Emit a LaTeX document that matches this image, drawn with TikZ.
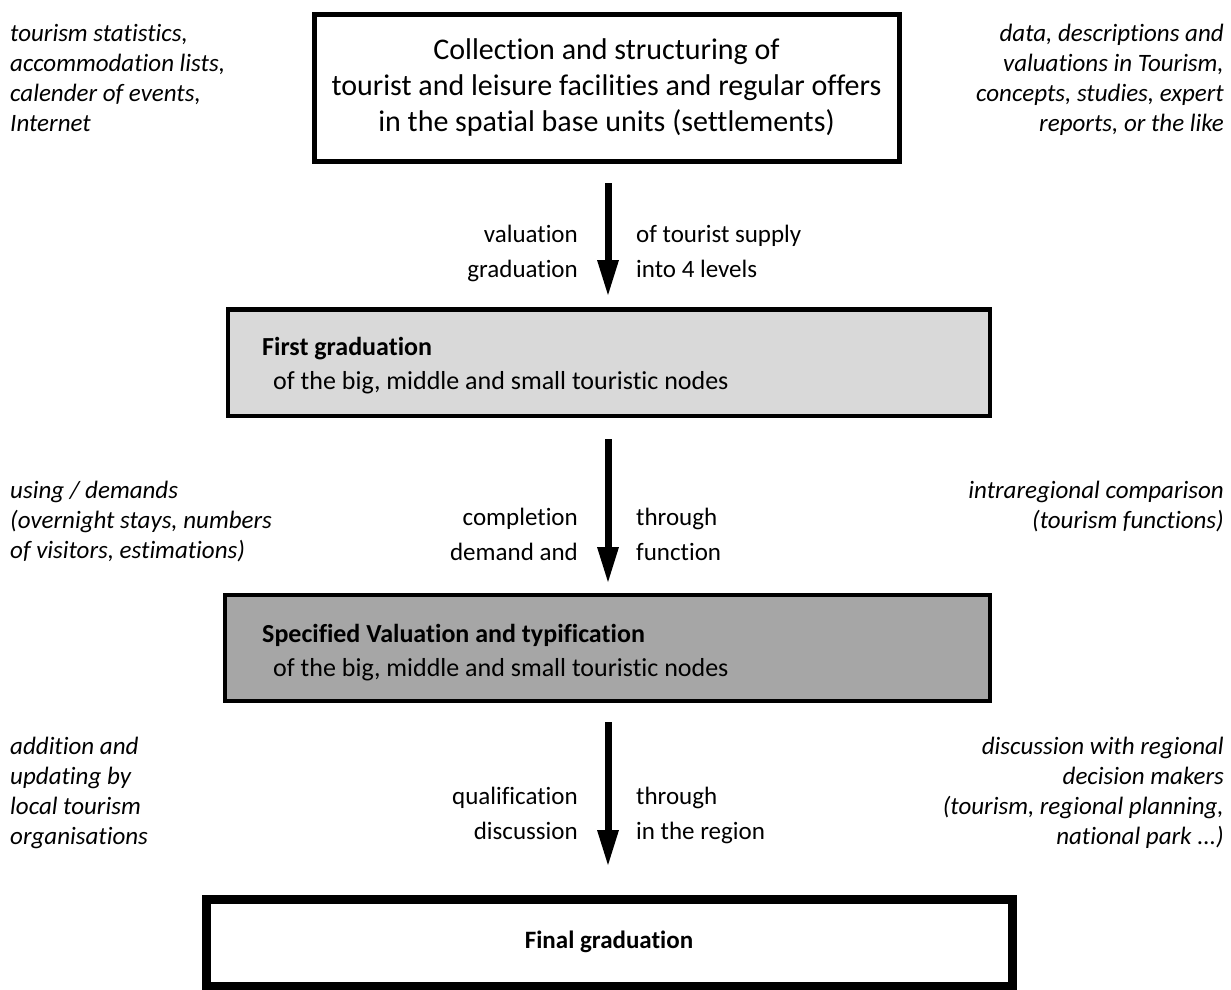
\documentclass[tikz,border=0pt]{standalone}
\usepackage{fontspec}
\setmainfont{Carlito}[Ligatures=NoCommon]
\usetikzlibrary{arrows.meta}
\definecolor{lightbox}{HTML}{D9D9D9}
\definecolor{darkbox}{HTML}{A6A6A6}
\tikzset{
  sidetxt/.style={inner sep=0pt, font=\fontsize{25}{30}\selectfont\itshape},
  lbl/.style={inner sep=0pt, font=\fontsize{25}{35}\selectfont},
  boxtxt/.style={inner sep=0pt, align=left, font=\fontsize{26}{34}\selectfont},
  box/.style={draw=black, line width=5pt, inner sep=0pt},
  bigarrow/.style={line width=7pt, -{Triangle[width=22pt,length=35pt,line width=0pt]}},
}
\begin{document}
\begin{tikzpicture}[x=1pt,y=-1pt]
\useasboundingbox (0,0) rectangle (1231,990);
% boxes
\node[box, minimum width=585pt, minimum height=146pt, align=center,
      font=\fontsize{30}{36}\selectfont] (b1) at (606.5,88)
  {\strut Collection and structuring of\\ tourist and leisure facilities and regular offers\\ in the spatial base units (settlements)\strut};
\node[box, line width=4.5pt, fill=lightbox, minimum width=762pt, minimum height=106.5pt] (b2) at (609,362.75) {};
\node[boxtxt, anchor=north west] (t2) at (262,355-23.8)
  {\strut\textbf{First graduation}\\ \hspace*{11pt}of the big, middle and small touristic nodes};
\node[box, line width=4.5pt, fill=darkbox, minimum width=765pt, minimum height=106pt] (b3) at (607.5,648) {};
\node[boxtxt, anchor=north west] (t3) at (262,642-23.8)
  {\strut\textbf{Specified Valuation and typification}\\ \hspace*{11pt}of the big, middle and small touristic nodes};
\node[box, line width=9pt, minimum width=806pt, minimum height=86.5pt,
      font=\fontsize{25}{30}\selectfont] (b4) at (609,942.75)
  {\strut\textbf{Final graduation}};
% arrows
\coordinate (ax) at (608,0);
\draw[bigarrow, shorten <=19.5pt, shorten >=12.25pt] (b1.south -| ax) -- (b2.north -| ax);
\draw[bigarrow, shorten <=20.75pt, shorten >=10.75pt] (b2.south -| ax) -- (b3.north -| ax);
\draw[bigarrow, shorten <=18.75pt, shorten >=30pt] (b3.south -| ax) -- (b4.north -| ax);
% arrow labels
\node[lbl, anchor=north east, align=right] (l1) at (578,242-24.5) {\strut valuation\\ graduation};
\node[lbl, anchor=north west, align=left] (r1) at (636,242-24.5) {\strut of tourist supply\\ into 4 levels};
\node[lbl, anchor=north east, align=right] (l2) at (578,525-24.5) {\strut completion\\ demand and};
\node[lbl, anchor=north west, align=left] (r2) at (636,525-24.5) {\strut through\\ function};
\node[lbl, anchor=north east, align=right] (l3) at (578,804-24.5) {\strut qualification\\ discussion};
\node[lbl, anchor=north west, align=left] (r3) at (636,804-24.5) {\strut through\\ in the region};
% side texts
\node[sidetxt, anchor=north west, align=left] (s1) at (10,41-21)
  {\strut tourism statistics,\\ accommodation lists,\\ calender of events,\\ Internet};
\node[sidetxt, anchor=north east, align=right] (s2) at (1224,41-21)
  {\strut data, descriptions and\\ valuations in Tourism,\\ concepts, studies, expert\\ reports, or the like};
\node[sidetxt, anchor=north west, align=left] (s3) at (10,498-21)
  {\strut using / demands\\ (overnight stays, numbers\\ of visitors, estimations)};
\node[sidetxt, anchor=north east, align=right] (s4) at (1224,498-21)
  {\strut intraregional comparison\\ (tourism functions)};
\node[sidetxt, anchor=north west, align=left] (s5) at (10,754-21)
  {\strut addition and\\ updating by\\ local tourism\\ organisations};
\node[sidetxt, anchor=north east, align=right] (s6) at (1224,754-21)
  {\strut discussion with regional\\ decision makers\\ (tourism, regional planning,\\ national park ...)};
\end{tikzpicture}
\end{document}
